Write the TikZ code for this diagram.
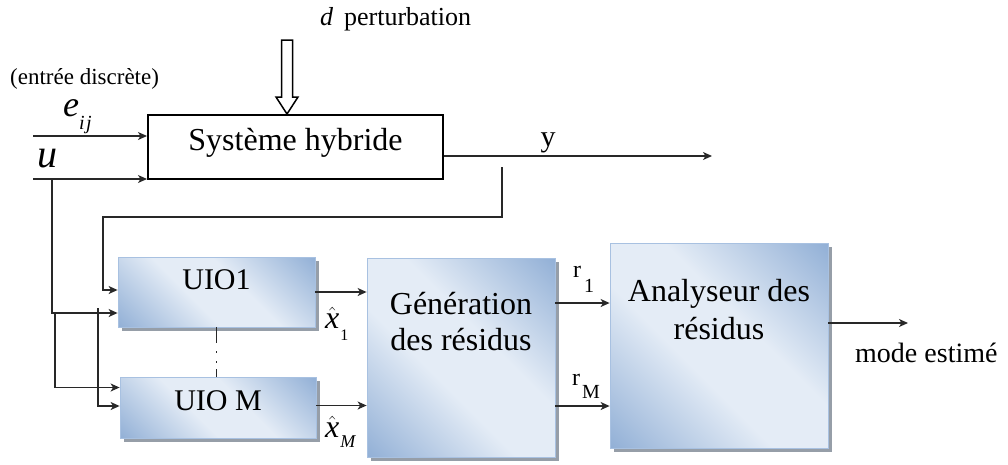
\documentclass[tikz,border=0pt]{standalone}
\usepackage{fontspec}
\setmainfont{Liberation Serif}
\usetikzlibrary{arrows.meta,shadows,calc}

\definecolor{bdark}{RGB}{138,170,211}
\definecolor{blight}{RGB}{228,236,246}
\definecolor{bedge}{RGB}{168,193,225}
\definecolor{shadowcol}{RGB}{150,158,168}
\definecolor{wirecol}{RGB}{40,40,40}

% diagonal blue gradient of the observer / residual blocks
\pgfdeclarehorizontalshading{blockshade}{100bp}{color(0bp)=(bdark); color(12bp)=(bdark); color(42bp)=(blight); color(58bp)=(blight); color(88bp)=(bdark); color(100bp)=(bdark)}

\begin{document}
\begin{tikzpicture}[x=1pt,y=-1pt,
  wire/.style={line width=1.3pt, draw=wirecol},
  arr/.style={wire, -{Stealth[length=9pt,width=8pt,inset=2.5pt]}},
  sysbox/.style={draw=black, line width=2pt, fill=white, inner sep=0pt},
  bluebox/.style={shading=blockshade, shading angle=45, draw=bedge, line width=0.8pt,
    inner sep=0pt,
    general shadow={fill=shadowcol, shadow xshift=4pt, shadow yshift=-4pt}},
  bigtxt/.style={font=\fontsize{32}{36}\selectfont, align=center, inner sep=0pt},
  uiotxt/.style={font=\fontsize{30}{34}\selectfont, inner sep=0pt},
  lbl/.style={inner sep=0pt, anchor=base west},
  hollowarrow/.style={draw=black, line width=1.5pt, fill=white, line join=miter}]

\useasboundingbox (0,0) rectangle (1008,464);

% ---------- blocks ----------
\node[sysbox, minimum width=295pt, minimum height=64pt,
      label={[bigtxt, yshift=4.5pt]center:Système hybride}] (sys) at (295.5,147) {};

\node[bluebox, minimum width=197pt, minimum height=70pt,
      label={[uiotxt, yshift=12pt]center:UIO1}] (uio1) at (216.5,292) {};
\node[bluebox, minimum width=196pt, minimum height=61pt,
      label={[uiotxt, yshift=7pt]center:UIO M}] (uiom) at (218,407.5) {};

\node[bluebox, minimum width=188pt, minimum height=199pt,
      label={[bigtxt, yshift=35.5pt]center:Génération\\des résidus}] (gen) at (461,357.5) {};
\node[bluebox, minimum width=218pt, minimum height=205pt,
      label={[bigtxt, font=\fontsize{32}{38}\selectfont, yshift=35.5pt]center:Analyseur des\\résidus}] (ana) at (719,345.5) {};

% ---------- texts ----------
\node[lbl] (dlbl) at (320,25) {\fontsize{26}{26}\selectfont\textit{d} \,perturbation};
\node[lbl] (entlbl) at (10,84) {\fontsize{23}{23}\selectfont(entrée discrète)};
\node[lbl] (elbl) at (63,116) {\fontsize{36}{36}\selectfont\textit{e}\raisebox{-13pt}{\fontsize{20}{20}\selectfont\textit{i\kern1.5pt j}}};
\node[lbl] (ulbl) at (37,167) {\fontsize{40}{40}\selectfont\textit{u}};
\node[inner sep=0pt, anchor=base] (ylbl) at (548,146) {\fontsize{30}{30}\selectfont y};
\node[lbl] (x1lbl) at (325,328) {\fontsize{32}{32}\selectfont$\hat{\mbox{\itshape x}}$\kern1pt\raisebox{-12pt}{\fontsize{16}{16}\selectfont 1}};
\node[lbl] (xmlbl) at (325,437) {\fontsize{32}{32}\selectfont$\hat{\mbox{\itshape x}}$\kern1pt\raisebox{-10pt}{\fontsize{18}{18}\selectfont\textit{M}}};
\node[lbl] (r1lbl) at (573,277) {\fontsize{24}{24}\selectfont r\hspace{3pt}\raisebox{-15pt}{\fontsize{20}{20}\selectfont 1}};
\node[lbl] (rmlbl) at (572,385) {\fontsize{24}{24}\selectfont r\hspace{2pt}\raisebox{-13pt}{\fontsize{20}{20}\selectfont M}};
\node[lbl] (modelbl) at (855,362) {\fontsize{28}{28}\selectfont mode estimé};

% ---------- disturbance input ----------
\coordinate (dtip) at ($(sys.north)+(-8.5,0)$);
\draw[hollowarrow] (dtip) ++(-11,-17) -- ++(5.5,0) -- ++(0,-57) -- ++(11,0)
  -- ++(0,57) -- ++(5.5,0) -- (dtip) -- cycle;

% ---------- inputs of the hybrid system ----------
\coordinate (eIn) at (33,136);
\coordinate (uIn) at (33,179);
\draw[arr] (eIn) -- (eIn -| sys.west);
\draw[arr] (uIn) -- (uIn -| sys.west);

% ---------- output y ----------
\coordinate (yOut) at (712,156);
\draw[arr] (yOut -| sys.east) -- (yOut);

% ---------- measured output fed back to the observers ----------
\coordinate (fbA) at (502,167);
\coordinate (fbB) at (103,217);
\draw[arr] (fbA) |- (fbB) |- ([yshift=2pt]uio1.west);

% ---------- input u distributed to the observers ----------
\coordinate (uJ) at (52,179);
\coordinate (b1) at (55,313);
\coordinate (b2) at (98,308);
\draw[arr] (uJ) |- ([yshift=-21pt]uio1.west);
\draw[arr] (b1) |- ([yshift=20pt]uiom.west);
\draw[arr] (b2) |- ([yshift=1.5pt]uiom.west);

% ---------- bank of observers (UIO1 ... UIO M) ----------
\draw[wire, line width=1.6pt, dash pattern=on 16pt off 8pt on 2pt off 8pt on 2pt off 6pt on 30pt]
  (uio1.south) -- (uio1.south |- uiom.north);

% ---------- estimates to residual generation ----------
\draw[arr] (uio1.east) -- (uio1.east -| gen.west);
\draw[arr] ([yshift=2pt]uiom.east) -- ([yshift=2pt]uiom.east -| gen.west);

% ---------- residuals to the analyser ----------
\draw[arr] ([yshift=54.5pt]gen.east) coordinate (r1s) -- (r1s -| ana.west);
\draw[arr] ([yshift=-48.5pt]gen.east) coordinate (rms) -- (rms -| ana.west);

% ---------- estimated mode ----------
\coordinate (modeOut) at (908,323);
\draw[arr] (modeOut -| ana.east) -- (modeOut);

\end{tikzpicture}
\end{document}
